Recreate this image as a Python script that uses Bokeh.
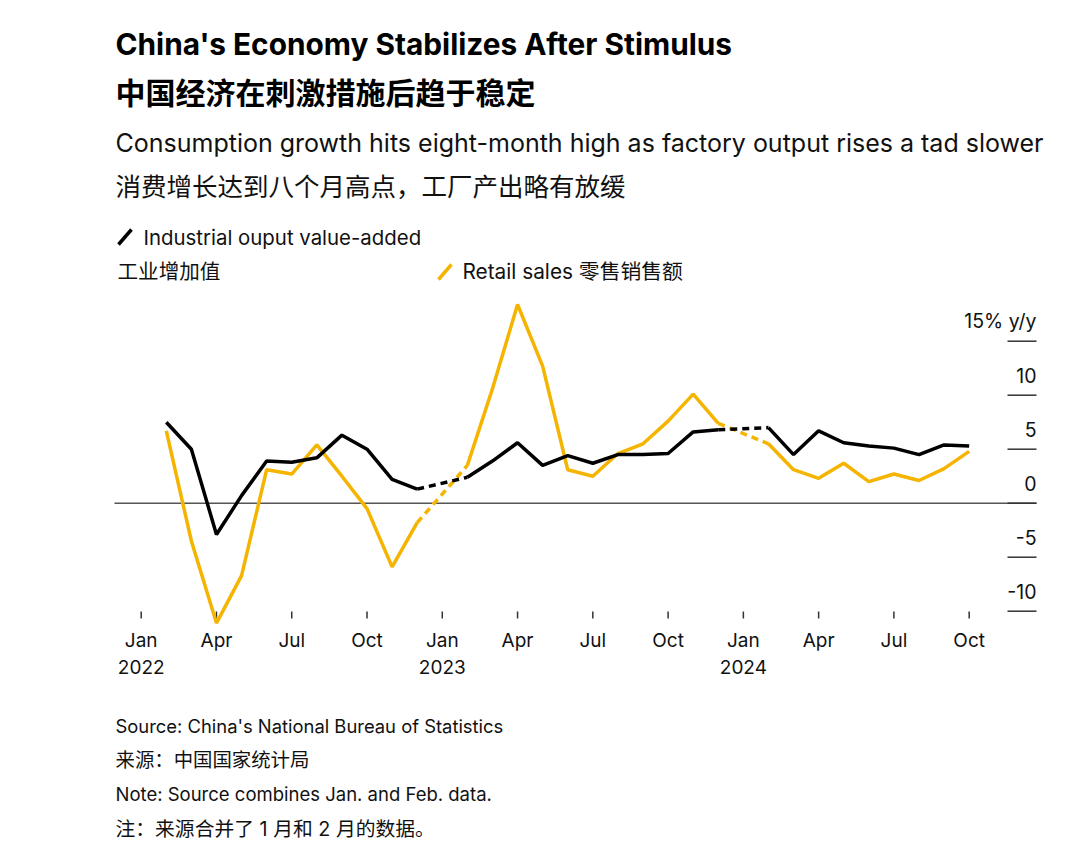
from bokeh.plotting import figure
from bokeh.models import Range1d
from bokeh.core.properties import value
from bokeh.embed import file_html
from bokeh.resources import INLINE

# ---------------- data ----------------
periods = ["2022-02", "2022-03", "2022-04", "2022-05", "2022-06", "2022-07",
           "2022-08", "2022-09", "2022-10", "2022-11", "2022-12",
           "2023-02", "2023-03", "2023-04", "2023-05", "2023-06", "2023-07",
           "2023-08", "2023-09", "2023-10", "2023-11", "2023-12",
           "2024-02", "2024-03", "2024-04", "2024-05", "2024-06", "2024-07",
           "2024-08", "2024-09", "2024-10"]
industrial = [7.5, 5.0, -2.9, 0.7, 3.9, 3.8, 4.2, 6.3, 5.0, 2.2, 1.3,
              2.4, 3.9, 5.6, 3.5, 4.4, 3.7, 4.5, 4.5, 4.6, 6.6, 6.8,
              7.0, 4.5, 6.7, 5.6, 5.3, 5.1, 4.5, 5.4, 5.3]
retail = [6.7, -3.5, -11.1, -6.7, 3.1, 2.7, 5.4, 2.5, -0.5, -5.9, -1.8,
          3.5, 10.6, 18.4, 12.7, 3.1, 2.5, 4.6, 5.5, 7.6, 10.1, 7.4,
          5.5, 3.1, 2.3, 3.7, 2.0, 2.7, 2.1, 3.2, 4.8]

x_tick_periods = ["2022-01", "2022-04", "2022-07", "2022-10",
                  "2023-01", "2023-04", "2023-07", "2023-10",
                  "2024-01", "2024-04", "2024-07", "2024-10"]
x_tick_months = ["Jan", "Apr", "Jul", "Oct"] * 3
x_tick_years = ["2022", "", "", "", "2023", "", "", "", "2024", "", "", ""]
y_ticks = [15, 10, 5, 0, -5, -10]
y_tick_labels = ["15% y/y", "10", "5", "0", "-5", "-10"]

title_en = "China's Economy Stabilizes After Stimulus"
title_zh = "中国经济在刺激措施后趋于稳定"
sub_en = "Consumption growth hits eight-month high as factory output rises a tad slower"
sub_zh = "消费增长达到八个月高点，工厂产出略有放缓"
legend_ip_en = "Industrial ouput value-added"
legend_ip_zh = "工业增加值"
legend_rs = "Retail sales 零售销售额"
footer = ["Source: China's National Bureau of Statistics",
          "来源：中国国家统计局",
          "Note: Source combines Jan. and Feb. data.",
          "注：来源合并了 1 月和 2 月的数据。"]

# ---------------- helpers ----------------
def midx(p):
    y, m = p.split("-")
    return (int(y) - 2022) * 12 + int(m) - 1

xs = [midx(p) for p in periods]

# page-pixel -> data mapping (layout only)
X0, XS = 140.7, 25.09     # page x of Jan 2022, px per month
Y0, YS = 502.7, 10.8      # page y of zero, px per unit
def X(px):
    return (px - X0) / XS
def Y(py):
    return (Y0 - py) / YS

W, H = 1076, 840
FONT = "Inter, Noto Sans CJK SC"
BLACK = "#000000"
TXT = "#111111"
YELLOW = "#F5B400"

p = figure(width=W, height=H, output_backend="svg", toolbar_location=None,
           x_range=Range1d(X(0), X(W)), y_range=Range1d(Y(H), Y(0)),
           x_axis_location=None, y_axis_location=None,
           min_border=0, min_border_left=0, min_border_right=0,
           min_border_top=0, min_border_bottom=0)
p.outline_line_color = None
p.grid.visible = False
p.background_fill_color = "white"
p.border_fill_color = "white"

def txt(xv, yv, t, size, **kw):
    kw.setdefault("text_baseline", "middle")
    kw.setdefault("text_color", TXT)
    p.text(x=xv, y=yv, text=t, text_font=value(FONT), text_font_size=value(size), **kw)

# zero line
p.segment(x0=[X(114)], x1=[X(1036)], y0=[0], y1=[0], line_color="#555555", line_width=1.5)

# y tick lines and labels
p.segment(x0=[X(1007)] * len(y_ticks), x1=[X(1036)] * len(y_ticks), y0=y_ticks, y1=y_ticks,
          line_color="#333333", line_width=1.5)
txt([X(1036)] * len(y_ticks), [v + 20 / YS for v in y_ticks], y_tick_labels, "19.5px",
    text_align="right")

# x ticks and labels
xt = [midx(p_) for p_ in x_tick_periods]
p.segment(x0=xt, x1=xt, y0=[Y(611)] * len(xt), y1=[Y(618)] * len(xt),
          line_color="#333333", line_width=1.5)
txt(xt, [Y(640)] * len(xt), x_tick_months, "19px", text_align="center")
txt(xt, [Y(666)] * len(xt), x_tick_years, "19px", text_align="center")

# series: solid runs, dashed across the combined Jan/Feb gaps
def runs(xv, yv):
    solid, dashed = [], []
    cur_x, cur_y = [xv[0]], [yv[0]]
    for i in range(1, len(xv)):
        if xv[i] - xv[i - 1] > 1:
            solid.append((cur_x, cur_y))
            dashed.append(([xv[i - 1], xv[i]], [yv[i - 1], yv[i]]))
            cur_x, cur_y = [], []
        cur_x.append(xv[i])
        cur_y.append(yv[i])
    solid.append((cur_x, cur_y))
    return solid, dashed

for series, color in ((retail, YELLOW), (industrial, BLACK)):
    solid, dashed = runs(xs, series)
    for sx, sy in solid:
        p.line(sx, sy, line_color=color, line_width=3.5)
    for dx, dy in dashed:
        p.line(dx, dy, line_color=color, line_width=3.5, line_dash="7 5")

# legend
p.segment(x0=[X(118)], y0=[Y(244)], x1=[X(131)], y1=[Y(229)], line_color=BLACK, line_width=3.5)
txt([X(143)], [Y(237)], [legend_ip_en], "20.4px")
txt([X(117)], [Y(271)], [legend_ip_zh], "20.6px")
p.segment(x0=[X(438)], y0=[Y(279)], x1=[X(451)], y1=[Y(264)], line_color=YELLOW, line_width=3.5)
txt([X(462)], [Y(271)], [legend_rs], "20.8px")

# titles
txt([X(115)], [Y(43)], [title_en], "29.8px", text_font_style="bold", text_color=BLACK)
txt([X(115)], [Y(92)], [title_zh], "30px", text_font_style="bold", text_color=BLACK)
txt([X(115)], [Y(142)], [sub_en], "25px")
txt([X(115)], [Y(186)], [sub_zh], "25.5px")

# footer
for yy, line, size in zip((725, 759, 793, 828), footer, ("18.4px", "19.4px", "18.5px", "19.8px")):
    txt([X(115)], [Y(yy)], [line], size)

open("out.html", "w").write(file_html(p, INLINE))
